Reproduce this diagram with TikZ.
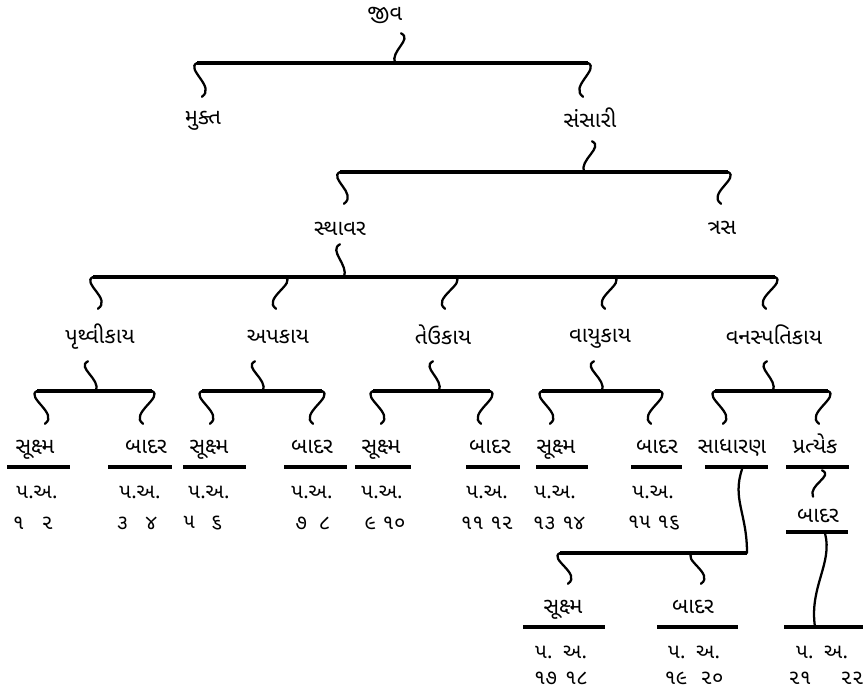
\documentclass[tikz,border=0pt]{standalone}
\usepackage{fontspec}
\newfontfamily\gujfont[Script=Gujarati]{Noto Sans Gujarati UI}

\tikzset{
  lbl/.style={font=\gujfont\fontsize{16.5}{19}\selectfont,text height=12pt,text depth=3pt,inner sep=0pt},
  sml/.style={font=\gujfont\fontsize{15.5}{18}\selectfont,inner sep=0pt},
  bar/.style={line width=2.3pt},
  wig/.style={line width=1.7pt,line cap=round},
  dropl/.style={wig,to path={.. controls +(-12,6) and +(14,-10) .. (\tikztotarget)}},
  dropr/.style={wig,to path={.. controls +(12,6) and +(-14,-10) .. (\tikztotarget)}},
  feedl/.style={wig,to path={.. controls +(-12,6) and +(5,-12) .. (\tikztotarget)}},
  feedr/.style={wig,to path={.. controls +(12,6) and +(-5,-12) .. (\tikztotarget)}},
}

\begin{document}
\begin{tikzpicture}[x=0.75pt,y=-0.75pt]
  \useasboundingbox (0,0) rectangle (863,693);
  \pgfmathsetmacro\ya{447}  % row of sukshma / badar
  \pgfmathsetmacro\yu{467}  % underlines
  \pgfmathsetmacro\yp{492}  % p.a.
  \pgfmathsetmacro\yn{523}  % numbers

% jiva
  \node[lbl] (jiva) at (385,14) {જીવ};
  \coordinate (b1) at (395,63);
  \draw[bar] (197,63) -- (588,63);
  \draw[feedr] ([shift={(16,9)}]jiva.south) to (b1);
  \node[lbl] (mukta) at (203,118) {મુક્ત};
  \node[lbl] (sansari) at (590,121) {સંસારી};
  \draw[dropl] (197,63) to ([shift={(-1,-11)}]mukta.north);
  \draw[dropr] (588,63) to ([shift={(-7,-14)}]sansari.north);

% sansari
  \coordinate (b2) at (584,172);
  \draw[bar] (340,172) -- (728,172);
  \draw[feedr] ([shift={(2,10)}]sansari.south) to (b2);
  \node[lbl] (sthavar) at (340,229) {સ્થાવર};
  \node[lbl] (trasa) at (722,228) {ત્રસ};
  \draw[dropl] (340,172) to ([shift={(4,-15)}]sthavar.north);
  \draw[dropr] (728,172) to ([shift={(-1,-14)}]trasa.north);

% sthavar
  \coordinate (b3) at (344,277);
  \draw[bar] (93,277) -- (775,277);
  \draw[feedl] ([shift={(0,5)}]sthavar.south) to (b3);
  \node[lbl] (pruthvi) at (100,337) {પૃથ્વીકાય};
  \node[lbl] (ap) at (278,337) {અપકાય};
  \node[lbl] (teu) at (443,338) {તેઉકાય};
  \node[lbl] (vayu) at (600,336) {વાયુકાય};
  \node[lbl] (vanas) at (774,338) {વનસ્પતિકાય};
  \draw[dropl] (93,277) to ([shift={(-2,-18)}]pruthvi.north);
  \draw[dropr] (285,277) to ([shift={(-2,-18)}]ap.north);
  \draw[dropr] (455,277) to ([shift={(2,-19)}]teu.north);
  \draw[dropr] (614,277) to ([shift={(5,-17)}]vayu.north);
  \draw[dropr] (775,277) to ([shift={(-8,-19)}]vanas.north);

% five kaya
  \coordinate (ca) at (96,391);
  \coordinate (cb) at (263,391);
  \coordinate (cc) at (439,391);
  \coordinate (cd) at (602,391);
  \coordinate (ce) at (773,391);
  \draw[feedl] ([shift={(-12,14)}]pruthvi.south) to (ca);
  \draw[feedl] ([shift={(-23,14)}]ap.south) to (cb);
  \draw[feedl] ([shift={(-10,13)}]teu.south) to (cc);
  \draw[feedl] ([shift={(-6,15)}]vayu.south) to (cd);
  \draw[feedl] ([shift={(-7,13)}]vanas.south) to (ce);
  \draw[bar] (37,391) -- (152,391);
  \draw[bar] (202,391) -- (322,391);
  \draw[bar] (373,391) -- (490,391);
  \draw[bar] (542,391) -- (660,391);
  \draw[bar] (715,391) -- (828,391);

  \node[lbl] (suka) at (35,\ya) {સૂક્ષ્મ};
  \node[lbl] (bada) at (146,\ya) {બાદર};
  \node[lbl] (sukb) at (209,\ya) {સૂક્ષ્મ};
  \node[lbl] (badb) at (312,\ya) {બાદર};
  \node[lbl] (sukc) at (381,\ya) {સૂક્ષ્મ};
  \node[lbl] (badc) at (490,\ya) {બાદર};
  \node[lbl] (sukd) at (556,\ya) {સૂક્ષ્મ};
  \node[lbl] (badd) at (657,\ya) {બાદર};
  \node[lbl] (sadh) at (732,\ya) {સાધારણ};
  \node[lbl] (prat) at (815,\ya) {પ્રત્યેક};
  \draw[dropl] (37,391) to ([shift={(10,-13)}]suka.north);
  \draw[dropr] (152,391) to ([shift={(-3,-13)}]bada.north);
  \draw[dropl] (202,391) to ([shift={(1,-13)}]sukb.north);
  \draw[dropr] (322,391) to ([shift={(1,-13)}]badb.north);
  \draw[dropl] (373,391) to ([shift={(0,-13)}]sukc.north);
  \draw[dropr] (490,391) to ([shift={(-9,-13)}]badc.north);
  \draw[dropl] (542,391) to ([shift={(-6,-13)}]sukd.north);
  \draw[dropr] (660,391) to ([shift={(-6,-13)}]badd.north);
  \draw[dropl] (715,391) to ([shift={(-9,-13)}]sadh.north);
  \draw[dropr] (828,391) to ([shift={(4,-13)}]prat.north);

  \draw[bar] (7,\yu) -- (70,\yu);
  \draw[bar] (108,\yu) -- (172,\yu);
  \draw[bar] (183,\yu) -- (246,\yu);
  \draw[bar] (284,\yu) -- (347,\yu);
  \draw[bar] (355,\yu) -- (411,\yu);
  \draw[bar] (466,\yu) -- (520,\yu);
  \draw[bar] (536,\yu) -- (588,\yu);
  \draw[bar] (631,\yu) -- (682,\yu);
  \draw[bar] (705,\yu) -- (768,\yu);
  \draw[bar] (786,\yu) -- (849,\yu);

  \node[sml] (pa1) at (37,\yp) {પ.અ.};
  \node[sml] (pa2) at (140,\yp) {પ.અ.};
  \node[sml] (pa3) at (209,\yp) {પ.અ.};
  \node[sml] (pa4) at (312,\yp) {પ.અ.};
  \node[sml] (pa5) at (382,\yp) {પ.અ.};
  \node[sml] (pa6) at (487,\yp) {પ.અ.};
  \node[sml] (pa7) at (555,\yp) {પ.અ.};
  \node[sml] (pa8) at (653,\yp) {પ.અ.};
  \node[sml] (nm1) at (33,\yn) {૧\hspace{13pt}૨};
  \node[sml] (nm2) at (137,\yn) {૩\hspace{13pt}૪};
  \node[sml] (nm3) at (203,\yn) {૫\hspace{12pt}૬};
  \node[sml] (nm4) at (313,\yn) {૭\hspace{9pt}૮};
  \node[sml] (nm5) at (385,\yn) {૯\hspace{5pt}૧૦};
  \node[sml] (nm6) at (487,\yn) {૧૧\hspace{5pt}૧૨};
  \node[sml] (nm7) at (559,\yn) {૧૩\hspace{5pt}૧૪};
  \node[sml] (nm8) at (654,\yn) {૧૫\hspace{5pt}૧૬};

% sadharan
  \coordinate (c5) at (747,553);
  \draw[wig] ([shift={(10,12)}]sadh.south) .. controls +(-10,30) and +(0,-40) .. (c5);
  \draw[bar] (560,553) -- (c5);
  \node[lbl] (sukf) at (563,607) {સૂક્ષ્મ};
  \node[lbl] (badf) at (693,607) {બાદર};
  \draw[dropl] (560,553) to ([shift={(5,-13)}]sukf.north);
  \draw[dropl] (693,553) to ([shift={(8,-13)}]badf.north);
  \draw[bar] (523,627) -- (605,627);
  \draw[bar] (657,627) -- (738,627);
  \node[sml] (pa9) at (561,652) {પ.\hspace{8pt}અ.};
  \node[sml] (pa10) at (694,652) {પ.\hspace{8pt}અ.};
  \node[sml] (nm9) at (561,678) {૧૭\hspace{6pt}૧૮};
  \node[sml] (nm10) at (694,678) {૧૯\hspace{10pt}૨૦};

% pratyek
  \node[lbl] (badg) at (818,516) {બાદર};
  \draw[feedr] ([shift={(7,13)}]prat.south) to ([shift={(-5,-9)}]badg.north);
  \draw[bar] (786,532) -- (848,532);
  \coordinate (u22) at (815,627);
  \draw[wig] ([shift={(7,7)}]badg.south) .. controls +(8,30) and +(-6,-40) .. (u22);
  \draw[bar] (784,627) -- (863,627);
  \node[sml] (pa11) at (822,652) {પ.\hspace{8pt}અ.};
  \node[sml] (nm11) at (826,678) {૨૧\hspace{22pt}૨૨};

\end{tikzpicture}
\end{document}
